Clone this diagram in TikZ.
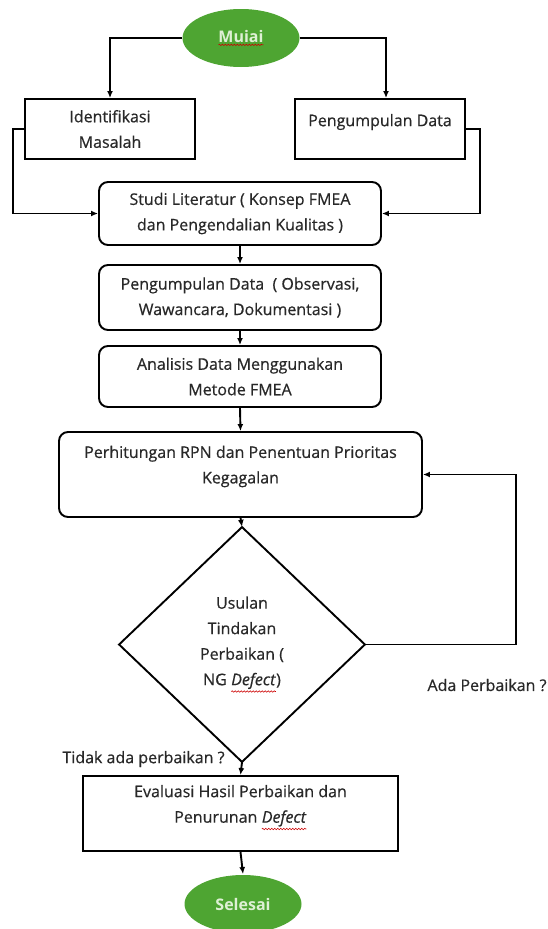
\documentclass[tikz,border=0pt]{standalone}
\usepackage{fontspec}
\setmainfont{Open Sans}[UprightFeatures={FakeBold=0.6},ItalicFeatures={FakeBold=0.6}]
\usetikzlibrary{shapes.geometric}
\usetikzlibrary{arrows.meta}
\usetikzlibrary{decorations.pathmorphing}

\definecolor{termgreen}{RGB}{78,165,50}
\definecolor{termtext}{RGB}{222,240,212}
\definecolor{textgray}{RGB}{40,40,40}

% red wavy underline of the spell checker
\newcommand{\spellmark}[1]{\tikz[baseline=(sw.base)]{\node[rectangle,draw=none,fill=none,
    inner sep=0pt,outer sep=0pt,minimum width=0pt,minimum height=0pt] (sw) {#1};
  \draw[red!80!black,line width=0.6pt,decorate,decoration={snake,amplitude=0.7pt,segment length=3pt}]
    ([yshift=-2.5pt]sw.south west) -- ([yshift=-2.5pt]sw.south east);}}

\begin{document}
\begin{tikzpicture}[x=1pt,y=-1pt,line width=1.9pt,text=textgray,
    font=\fontsize{16}{25.5}\selectfont,
    box/.style={draw,align=center,inner sep=0pt},
    roundbox/.style={box,rounded corners=9pt},
    terminal/.style={ellipse,fill=termgreen,inner sep=0pt,minimum width=117pt,minimum height=58pt,
      text=termtext,font=\fontsize{16}{18}\selectfont\bfseries},
    decision/.style={diamond,draw,align=center,inner sep=0pt,minimum width=246pt,minimum height=235pt},
    note/.style={align=center,inner sep=0pt},
    flow/.style={-{Latex[length=7pt,width=6pt]}}]
  \useasboundingbox (0,0) rectangle (547,929);

  % start and the two first steps
  \node[terminal] (mulai) at (241,38) {\spellmark{Muiai}};
  \node[box,minimum width=170pt,minimum height=60pt] (ident) at (110,129) {Identifikasi\\Masalah};
  \node[box,minimum width=170pt,minimum height=60pt] (kumpul) at (380,129) {};
  \node[note] (kumpultxt) at (380,122) {Pengumpulan Data};

  % main column
  \node[roundbox,minimum width=282pt,minimum height=63pt] (studi) at (240,213.5)
    {Studi Literatur ( Konsep FMEA\\dan Pengendalian Kualitas )};
  \node[roundbox,minimum width=282pt,minimum height=65pt] (observasi) at (240,297.5)
    {Pengumpulan Data\ \ ( Observasi,\\Wawancara, Dokumentasi )};
  \node[roundbox,minimum width=282pt,minimum height=61pt] (analisis) at (240,376.5)
    {Analisis Data Menggunakan\\Metode FMEA};
  \node[roundbox,minimum width=363pt,minimum height=85pt] (rpn) at (240.5,474.5) {};
  \node[note] (rpntxt) at (240.5,466.5) {Perhitungan RPN dan Penentuan Prioritas\\Kegagalan};
  \node[decision] (usulan) at (242,644.5)
    {Usulan\\Tindakan\\Perbaikan (\\NG \spellmark{\textit{Defect}})};
  \node[box,minimum width=315pt,minimum height=75pt] (evaluasi) at (240.5,813.5) {};
  \node[note] (evaluasitxt) at (240.5,807.5) {Evaluasi Hasil Perbaikan dan\\Penurunan \spellmark{\textit{Defect}}};
  \node[terminal] (selesai) at (243,904) {Selesai};

  % branch labels
  \node[note] (ada) at (487,685) {Ada Perbaikan ?};
  \node[note] (tidak) at (143.5,759) {Tidak ada perbaikan ?};

  % connectors
  \draw[flow] (mulai.west) -| (ident.north);
  \draw[flow] (mulai.east) -| ([xshift=6pt]kumpul.north);
  \draw[flow] (ident.west) -- ++(-11,0) |- (studi.west);
  \draw[flow] (kumpul.east) -- ++(14,0) |- (studi.east);
  \draw[flow] (studi.south) -- (observasi.north);
  \draw[flow] (observasi.south) -- (analisis.north);
  \draw[flow] (analisis.south) -- (rpn.north);
  \draw[flow] (rpn.south) -- (usulan.north);
  \draw[flow] (usulan.east) -- ++(151,0) |- (rpn.east);
  \draw[flow] (usulan.south) -- (evaluasi.north);
  \draw[flow] (evaluasi.south) -- (selesai.north);
\end{tikzpicture}
\end{document}
